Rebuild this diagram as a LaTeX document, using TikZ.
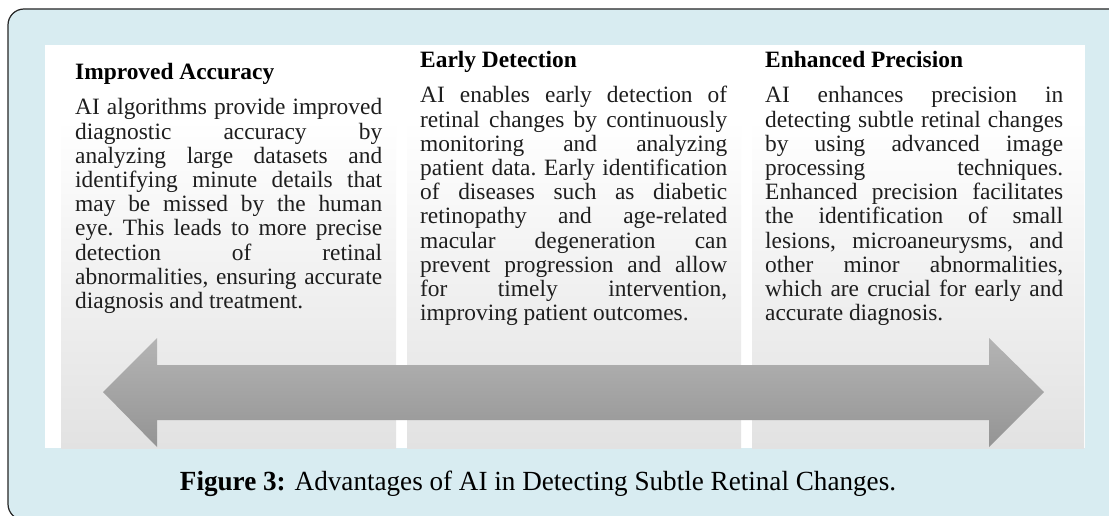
\documentclass[tikz,border=0pt]{standalone}
\usepackage{fontspec}
\setmainfont{Liberation Serif}
\usepackage{graphicx}
\definecolor{frameblue}{RGB}{216,236,241}
\definecolor{colbot}{RGB}{226,226,226}
\definecolor{arrowtop}{RGB}{180,180,180}
\definecolor{arrowbot}{RGB}{148,148,148}
\definecolor{bodytext}{RGB}{30,30,30}
\newdimen\colw
\newcommand\JL[1]{\hbox to\colw{#1}}
\newcommand\LL[1]{\hbox{#1}}
\tikzset{
  bodyfont/.style={font={\fontsize{23.4}{24.2}\selectfont\frenchspacing}},
  body/.style={bodyfont, anchor=base west, inner sep=0pt, text=bodytext},
  heading/.style={font={\fontsize{23.4}{24.2}\selectfont\bfseries}, anchor=base west, inner sep=0pt, text=black},
  column/.style={top color=white, bottom color=colbot},
}
\begin{document}
\begin{tikzpicture}[x=1pt,y=-1pt]
\useasboundingbox (0,0) rectangle (1109,516);
\fill[white] (0,0) rectangle (1109,516);
% outer frame
\draw[fill=frameblue, draw=black!85, line width=1.2pt, rounded corners=16pt] (8,9) rectangle (1150,520);
% white image panel
\fill[white] (45,45) rectangle (1085,448);
% columns (white at the top, grey towards the bottom)
\shade[column] (61,120) rectangle (396,448);
\shade[column] (407,120) rectangle (741,448);
\shade[column] (752,120) rectangle (1084,448);
% double arrow
\shade[top color=arrowtop, bottom color=arrowbot]
  (103,392) -- (157,338) -- (157,365) -- (989,365) -- (989,338) -- (1044,392)
  -- (989,447) -- (989,420) -- (157,420) -- (157,447) -- cycle;
% headings
\node[heading] (h1) at (75,80) {Improved Accuracy};
\node[heading] (h2) at (420,68) {Early Detection};
\node[heading] (h3) at (765,68) {Enhanced Precision};
% bodies
\node[body] (b1) at (75,115) {\colw=307pt\vtop{%
\JL{AI algorithms provide improved}
\JL{diagnostic accuracy by}
\JL{analyzing large datasets and}
\JL{identifying minute details that}
\JL{may be missed by the human}
\JL{eye. This leads to more precise}
\JL{detection of retinal}
\JL{abnormalities, ensuring accurate}
\LL{diagnosis and treatment.}}};
\node[body] (b2) at (420,103) {\colw=307pt\vtop{%
\JL{AI enables early detection of}
\JL{retinal changes by continuously}
\JL{monitoring and analyzing}
\JL{patient data. Early identification}
\JL{of diseases such as diabetic}
\JL{retinopathy and age-related}
\JL{macular degeneration can}
\JL{prevent progression and allow}
\JL{for timely intervention,}
\LL{improving patient outcomes.}}};
\node[body] (b3) at (765,103) {\colw=298pt\vtop{%
\JL{AI enhances precision in}
\JL{detecting subtle retinal changes}
\JL{by using advanced image}
\JL{processing techniques.}
\JL{Enhanced precision facilitates}
\JL{the identification of small}
\JL{lesions, microaneurysms, and}
\JL{other minor abnormalities,}
\JL{which are crucial for early and}
\LL{accurate diagnosis.}}};
% caption
\node[anchor=base, inner sep=0pt] (cap) at (538,490)
  {\resizebox{716pt}{19.5pt}{\textbf{Figure 3:} Advantages of AI in Detecting Subtle Retinal Changes.}};
\end{tikzpicture}
\end{document}
